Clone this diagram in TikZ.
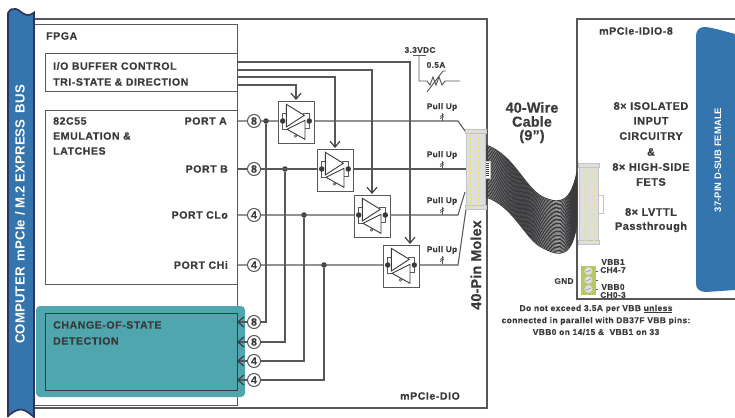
\documentclass[tikz,border=0pt]{standalone}
\usepackage{fontspec}
\setmainfont{Liberation Sans}
\newfontfamily\lbl[LetterSpace=5,FakeBold=0.4]{Liberation Sans Bold}
\newfontfamily\lblw[LetterSpace=1,FakeBold=0.4]{Liberation Sans Bold}
\newfontfamily\lblq[LetterSpace=1]{Liberation Sans Bold}
\usetikzlibrary{arrows.meta,calc}
\definecolor{ink}{HTML}{3A3A3C}
\definecolor{wire}{HTML}{58585A}
\definecolor{busblue}{HTML}{3375AC}
\definecolor{teal1}{HTML}{4FA6AF}
\definecolor{conn}{HTML}{DEDEDE}
\definecolor{connl}{HTML}{C4C4C4}
\definecolor{pincol}{HTML}{F2E54A}
\definecolor{term}{HTML}{B7C95E}
\tikzset{
  line/.style={draw=wire,line width=1.05pt},
  boxl/.style={draw=wire,line width=1.2pt},
  barb/.style={-{Straight Barb[length=6pt,width=10pt,line width=1.1pt,color=ink]}},
  txt/.style={font=\lbl\fontsize{10.6}{12}\selectfont,text=ink,inner sep=0pt},
  txtr/.style={font=\lbl\fontsize{10.9}{12}\selectfont,text=ink,inner sep=0pt},
  small/.style={font=\lbl\fontsize{8.2}{9}\selectfont,text=ink,inner sep=0pt},
  note/.style={font=\lbl\fontsize{8.4}{9}\selectfont,text=ink,inner sep=0pt},
  big/.style={font=\lblw\fontsize{14.4}{15}\selectfont,text=ink,inner sep=0pt},
  pcirc/.style={circle,draw=wire,line width=1pt,fill=white,inner sep=0pt,minimum size=13pt,
    font=\lblw\fontsize{10.5}{11}\selectfont,text=ink},
  jdot/.style={circle,fill=ink,inner sep=0pt,minimum size=5.5pt},
  bufbox/.style={rectangle,draw=wire,line width=1.2pt,fill=white,anchor=north west,
    inner sep=0pt,minimum width=35.5pt,minimum height=41.5pt},
}
% #1 name, #2 x of the box, #3 y of the box
\newcommand{\bufcell}[3]{
  \node[bufbox] (#1) at (#2,#3) {};
  \begin{scope}[shift={(#2,#3)}]
    \draw[wire,line width=.85pt] (4.7,20) -- (4.7,12.5) -- (8.3,12.5);
    \draw[wire,line width=.85pt] (4.7,20) -- (4.7,28) -- (9,28);
    \draw[wire,line width=.85pt] (31.3,20) -- (31.3,12.5) -- (25,12.5);
    \draw[wire,line width=.85pt] (31.3,20) -- (31.3,27) -- (27,27);
    \draw[ink,line width=.9pt,fill=white] (27,38.3) -- (27,19.3) -- (9,28.3) -- cycle;
    \draw[ink,line width=.9pt,fill=white] (8.3,3.3) -- (8.3,26) -- (26.3,14.3) -- cycle;
    \draw[ink,line width=.6pt,fill=white] (17.5,35) circle (1.2);
  \end{scope}
  \node[jdot] (#1l) at ($(#1.north west)+(4.7,20)$) {};
  \node[jdot] (#1r) at ($(#1.north west)+(31.3,20)$) {};
}
\newcommand{\pullup}[2]{
  \draw[wire,line width=.8pt] (442,#2-8) -- (442,#2);
  \draw[wire,line width=.7pt] (440,#2-4.5) -- (444,#2-6.5) (440,#2-2.5) -- (444,#2-4.5);
  \node[small] (#1) at (442,#2-14) {Pull Up};
}
% #1 name, #2 x0 #3 y0 #4 x1 #5 y1
\newcommand{\connector}[5]{
  \path[draw=connl,line width=.7pt,fill=conn] (#2,#3+1) rectangle (#4,#5-1);
  \path[draw=connl,line width=.7pt,fill=conn] (#2-1,#3) rectangle (#4+1,#3+4);
  \path[draw=connl,line width=.7pt,fill=conn] (#2-1,#5-4) rectangle (#4+1,#5);
  \coordinate (#1) at (#2,#3);
}
\begin{document}
\begin{tikzpicture}[x=1pt,y=-1pt]
\useasboundingbox (0,0) rectangle (735,417);
\fill[white] (0,0) rectangle (735,417);

% outer boards
\draw[boxl] (34,19) -- (487,19) -- (487,408) -- (34,408);
\draw[boxl] (735,19) -- (577,19) -- (577,299) -- (735,299);

% FPGA blocks
\node[boxl,rectangle,anchor=north west,inner sep=0pt,minimum width=203pt,minimum height=381pt] (fpga) at (34,24) {};
\node[boxl,rectangle,anchor=north west,inner sep=0pt,minimum width=192pt,minimum height=38pt] (iobox) at (45,53) {};
\node[boxl,rectangle,anchor=north west,inner sep=0pt,minimum width=192pt,minimum height=174pt] (emu) at (45,110) {};

% teal block
\fill[teal1,rounded corners=4pt] (36,306) rectangle (245,397);
\node[rectangle,draw=ink,line width=1.4pt,anchor=north west,inner sep=0pt,minimum width=192pt,minimum height=77pt] (cos) at (45,313) {};

% named junctions
\coordinate (c1) at (237,62);
\coordinate (c2) at (237,70);
\coordinate (c3) at (237,77);
\coordinate (c4) at (237,85);
\coordinate (ea) at (237,121);
\coordinate (eb) at (237,169);
\coordinate (ec) at (237,215);
\coordinate (ed) at (237,265);
\coordinate (ia) at (237,322);
\coordinate (ib) at (237,342);
\coordinate (ic) at (237,361);
\coordinate (id) at (237,380);

\node[pcirc] (pa) at (254,121) {8};
\node[pcirc] (pb) at (254,169) {8};
\node[pcirc] (pc) at (254,215) {4};
\node[pcirc] (pd) at (254,265) {4};
\node[pcirc] (qa) at (254,322) {8};
\node[pcirc] (qb) at (254,342) {8};
\node[pcirc] (qc) at (254,361) {4};
\node[pcirc] (qd) at (254,380) {4};

\node[jdot] (ja) at (266,121) {};
\node[jdot] (jb) at (285,169) {};
\node[jdot] (jc) at (304,215) {};
\node[jdot] (jd) at (324,265) {};

% bus wires from the ports
\draw[line] (ea) -- (pa.west) (pa.east) -- (458,121) -- (465,131);
\draw[line] (eb) -- (pb.west) (pb.east) -- (467,169);
\draw[line] (ec) -- (pc.west) (pc.east) -- (458,215) -- (465,192);
\draw[line] (ed) -- (pd.west) (pd.east) -- (458,265) -- (466,209);

% taps to the change-of-state block
\draw[line] (ja) |- (qa.east);
\draw[line] (jb) |- (qb.east);
\draw[line] (jc) |- (qc.east);
\draw[line] (jd) |- (qd.east);
\draw[line,barb] (qa.west) -- (ia);
\draw[line,barb] (qb.west) -- (ib);
\draw[line,barb] (qc.west) -- (ic);
\draw[line,barb] (qd.west) -- (id);

% control lines
\coordinate (bufdin) at (410,244);
\coordinate (bufcin) at (372,194);
\coordinate (bufbin) at (335,148);
\coordinate (bufain) at (296,100);
\draw[line,barb] (c1) -| (bufdin);
\draw[line,barb] (c2) -| (bufcin);
\draw[line,barb] (c3) -| (bufbin);
\draw[line,barb] (c4) -| (bufain);

% buffers
\bufcell{bufa}{278}{101}
\bufcell{bufb}{317}{149}
\bufcell{bufc}{354}{195}
\bufcell{bufd}{383}{245}

% pull ups
\pullup{pua}{121}
\pullup{pub}{169}
\pullup{puc}{215}
\pullup{pud}{264}

% fuse
\node[small] (vdc) at (420,50) {3.3VDC};
\node[small] (fuse) at (436,65) {0.5A};
\draw[line,line width=.95pt] (413,55) -- (426,55);
\draw[line,line width=.95pt] (419,55) -- (419,81) -- (427,81) -- (430,85) -- (433,77) -- (436,85) -- (439,77) -- (442,85) -- (445,81) -- (460,81);
\draw[line,line width=.95pt] (427,92) -- (443,71) -- (446,71);

% cable
\coordinate (a1) at (486,145); \coordinate (a2) at (486,197);
\coordinate (b1) at (515,155); \coordinate (b2) at (515,207);
\coordinate (k1) at (525,190); \coordinate (k2) at (525,240);
\coordinate (d1) at (545,198); \coordinate (d2) at (543,248);
\coordinate (e1) at (562,205); \coordinate (e2) at (560,257);
\coordinate (f1) at (571,200); \coordinate (f2) at (572,258);
\coordinate (g1) at (577,172); \coordinate (g2) at (577,223);
\foreach \i in {0,...,39}{
  \pgfmathsetmacro{\t}{\i/39}
  \draw[ink,line width=.95pt] ($(a1)!\t!(a2)$) .. controls ($(b1)!\t!(b2)$) and ($(k1)!\t!(k2)$) .. ($(d1)!\t!(d2)$)
     .. controls ($(e1)!\t!(e2)$) and ($(f1)!\t!(f2)$) .. ($(g1)!\t!(g2)$);
}

% connectors
\path[draw=connl,line width=.7pt,fill=white] (484,161) rectangle (490,178);
\foreach \y in {163,165,...,176}{\draw[ink,line width=.8pt] (484,\y) -- (488.5,\y);}
\connector{cl}{466}{129}{485}{209}
\foreach \i in {0,...,19}{
  \fill[pincol] (470.5,135+\i*3.7) circle (1);
  \fill[pincol] (478.5,135+\i*3.7) circle (1);
}
\path[draw=connl,line width=.9pt,fill=white] (597,195) rectangle (603,213);
\connector{cr}{579}{163}{598}{244}
\foreach \i in {0,...,19}{
  \fill[pincol] (586,170+\i*3.7) circle (1);
  \fill[pincol] (594,170+\i*3.7) circle (1);
}

% terminal block
\fill[term] (581,266) rectangle (596,295);
\foreach \y in {271,280,289}{
  \draw[connl,line width=.4pt,fill=white!88!black] (588.5,\y) circle (4);
  \draw[gray,line width=.4pt] (586,\y+1) -- (591,\y-1);
  \draw[wire,line width=.5pt] (596,\y) -- (598,\y);
}

% bus
\draw[draw=ink!85!blue,line width=1.6pt,fill=busblue]
  (8,417) -- (8,13) .. controls (10,9) and (13,8) .. (16,9)
  .. controls (20,10) and (22,14) .. (27,15)
  .. controls (30,15.5) and (32,14) .. (34,12.5) -- (34,417)
  .. controls (30,414) and (26,410) .. (21,409.5)
  .. controls (16,409.5) and (12,413) .. (8,416) -- cycle;

% D-sub
\draw[draw=none,fill=busblue] (735,34) .. controls (720,30) and (710,27) .. (704,27)
  .. controls (699,27) and (696,31) .. (696,36) -- (696,284)
  .. controls (696,289) and (700,292) .. (706,292) -- (735,290) -- cycle;

% texts
\node[font=\lblq\fontsize{13.2}{14}\selectfont,text=white,rotate=90,inner sep=0pt] (bustxt) at (20,214.5)
  {COMPUTER\, mPCIe / M.2 EXPRESS\, BUS};
\node[font=\lblq\fontsize{9.4}{12}\selectfont,text=white,rotate=90,inner sep=0pt] (dsubtxt) at (718,160) {37-PIN D-SUB FEMALE};

\node[txt,anchor=west] (tfpga) at (46,36) {FPGA};
\node[txt,anchor=west] (t1) at (53,66) {I/O BUFFER CONTROL};
\node[txt,anchor=west] (t2) at (53,82) {TRI-STATE \& DIRECTION};
\node[txt,anchor=west] (t3) at (53,121) {82C55};
\node[txt,anchor=west] (t4) at (53,136) {EMULATION \&};
\node[txt,anchor=west] (t5) at (53,151) {LATCHES};
\node[txt,anchor=east] (tpa) at (227,121) {PORT A};
\node[txt,anchor=east] (tpb) at (228,169) {PORT B};
\node[txt,anchor=east] (tpc) at (228,215) {PORT CLo};
\node[txt,anchor=east] (tpd) at (228,265) {PORT CHi};
\node[txt,anchor=west] (t6) at (53,325) {CHANGE-OF-STATE};
\node[txt,anchor=west] (t7) at (53,341) {DETECTION};
\node[txt,anchor=west] (tdio) at (400,396) {mPCIe-DIO};
\node[big,rotate=90] (tmolex) at (476,265) {40-Pin Molex};
\node[big] (tw1) at (532,107.5) {40-Wire};
\node[big] (tw2) at (532,121.5) {Cable};
\node[big] (tw3) at (532,136.5) {(9”)};

\node[txt] (tidio) at (636,31) {mPCIe-IDIO-8};
\node[txtr] (r1) at (651,106) {8× ISOLATED};
\node[txtr] (r2) at (651,121) {INPUT};
\node[txtr] (r3) at (651,136) {CIRCUITRY};
\node[txtr] (r4) at (651,152) {\&};
\node[txtr] (r5) at (651,167) {8× HIGH-SIDE};
\node[txtr] (r6) at (651,182) {FETS};
\node[txtr] (r7) at (651,212) {8× LVTTL};
\node[txtr] (r8) at (651,227) {Passthrough};

\node[small] (tgnd) at (564,281) {GND};
\node[small] (tv1) at (613,262) {VBB1};
\node[small] (tc1) at (613,270) {CH4-7};
\node[small] (tv0) at (613,287) {VBB0};
\node[small] (tc0) at (613,295) {CH0-3};

\node[note] (n1) at (596,309) {Do not exceed 3.5A per VBB \underline{unless}};
\node[note] (n2) at (596,321) {connected in parallel with DB37F VBB pins:};
\node[note] (n3) at (596,332) {VBB0 on 14/15 \&\ \ VBB1 on 33};
\end{tikzpicture}
\end{document}
